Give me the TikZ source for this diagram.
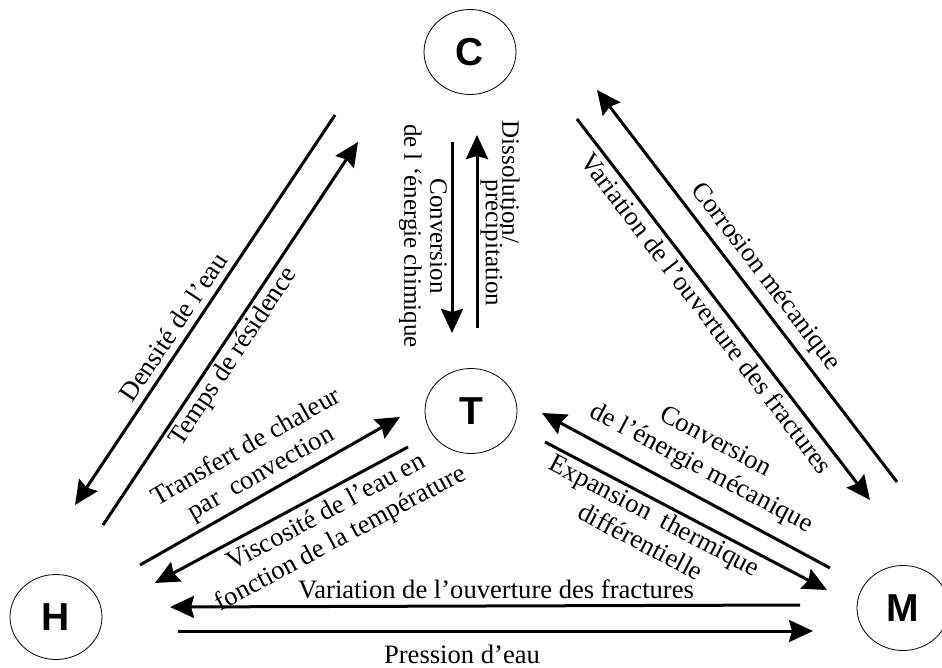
\documentclass[tikz,border=0pt]{standalone}
\usepackage{fontspec}
\setmainfont{Liberation Serif}
\setsansfont{Liberation Sans}
\usetikzlibrary{shapes,arrows.meta,positioning}

\begin{document}
\begin{tikzpicture}[
    x=0.5pt, y=-0.5pt,
    pole/.style={ellipse, draw, thin, minimum width=46pt, minimum height=42.5pt, inner sep=0pt, font=\sffamily\bfseries\fontsize{19.5}{20}\selectfont},
    arrow/.style={-{Stealth[length=12pt,width=11pt,inset=1.5pt]}, line width=1.5pt},
    lbl/.style={inner sep=0pt, align=center, font=\fontsize{13.3}{15}\selectfont},
    vlbl/.style={lbl, rotate=-90, font=\fontsize{12.5}{13}\selectfont}
]
    \useasboundingbox (0,0) rectangle (942,668);

    % Nodes
    \node[pole] (C) at (470,52) {C};
    \node[pole] (T) at (471,411) {T};
    \node[pole] (H) at (56,617) {H};
    \node[pole] (M) at (903,608) {M};

    % Arrow ends
    \coordinate (densA) at (335,115);  \coordinate (densB) at (75,505);
    \coordinate (tempsA) at (103,525); \coordinate (tempsB) at (358,142);
    \coordinate (chimA) at (452,142);  \coordinate (chimB) at (452,333);
    \coordinate (dissA) at (477,328);  \coordinate (dissB) at (477,135);
    \coordinate (corrA) at (897,482);  \coordinate (corrB) at (597,90);
    \coordinate (ouvA) at (577,119);   \coordinate (ouvB) at (870,500);
    \coordinate (transA) at (140,565); \coordinate (transB) at (400,417);
    \coordinate (viscA) at (408,447);  \coordinate (viscB) at (155,583);
    \coordinate (mecaA) at (830,568);  \coordinate (mecaB) at (542,413);
    \coordinate (expA) at (545,442);   \coordinate (expB) at (827,590);
    \coordinate (fracA) at (800,605);  \coordinate (fracB) at (170,607);
    \coordinate (presA) at (178,631);  \coordinate (presB) at (813,631);

    % Arrows
    \draw[arrow] (densA) -- (densB);
    \draw[arrow] (tempsA) -- (tempsB);
    \draw[arrow] (chimA) -- (chimB);
    \draw[arrow] (dissA) -- (dissB);
    \draw[arrow] (corrA) -- (corrB);
    \draw[arrow] (ouvA) -- (ouvB);
    \draw[arrow] (transA) -- (transB);
    \draw[arrow] (viscA) -- (viscB);
    \draw[arrow] (mecaA) -- (mecaB);
    \draw[arrow] (expA) -- (expB);
    \draw[arrow] (fracA) -- (fracB);
    \draw[arrow] (presA) -- (presB);

    % Labels
    \node[lbl, rotate=56.3] (densL) at (173,327) {Densité de l’eau};
    \node[lbl, rotate=56.3] (tempsL) at (234,357) {Temps de résidence};
    \node[vlbl] (chimL) at (423,236) {Conversion\\de l ‘énergie chimique};
    \node[vlbl] (dissL) at (511,182) {Dissolution/};
    \node[vlbl] (precL) at (492,243) {précipitation};
    \node[lbl, rotate=-52.5] (corrL) at (765,277) {Corrosion mécanique};
    \node[lbl, rotate=-52.5] (ouvL) at (707,313) {Variation de l’ouverture des fractures};
    \node[lbl, rotate=29.6] (transL) at (254,461) {Transfert de chaleur\\par~~convection};
    \node[lbl, rotate=28.3] (viscL) at (334,526) {Viscosité de l’eau en\\fonction de la température};
    \node[lbl, rotate=-28] (mecaL) at (708,456) {Conversion\\de l’énergie mécanique};
    \node[lbl, rotate=-27.7] (expL) at (648,528) {Expansion~~thermique\\différentielle};
    \node[lbl, anchor=base] (fracL) at (496,598) {Variation de l’ouverture des fractures};
    \node[lbl, anchor=base] (presL) at (462,663) {Pression d’eau};
\end{tikzpicture}
\end{document}
